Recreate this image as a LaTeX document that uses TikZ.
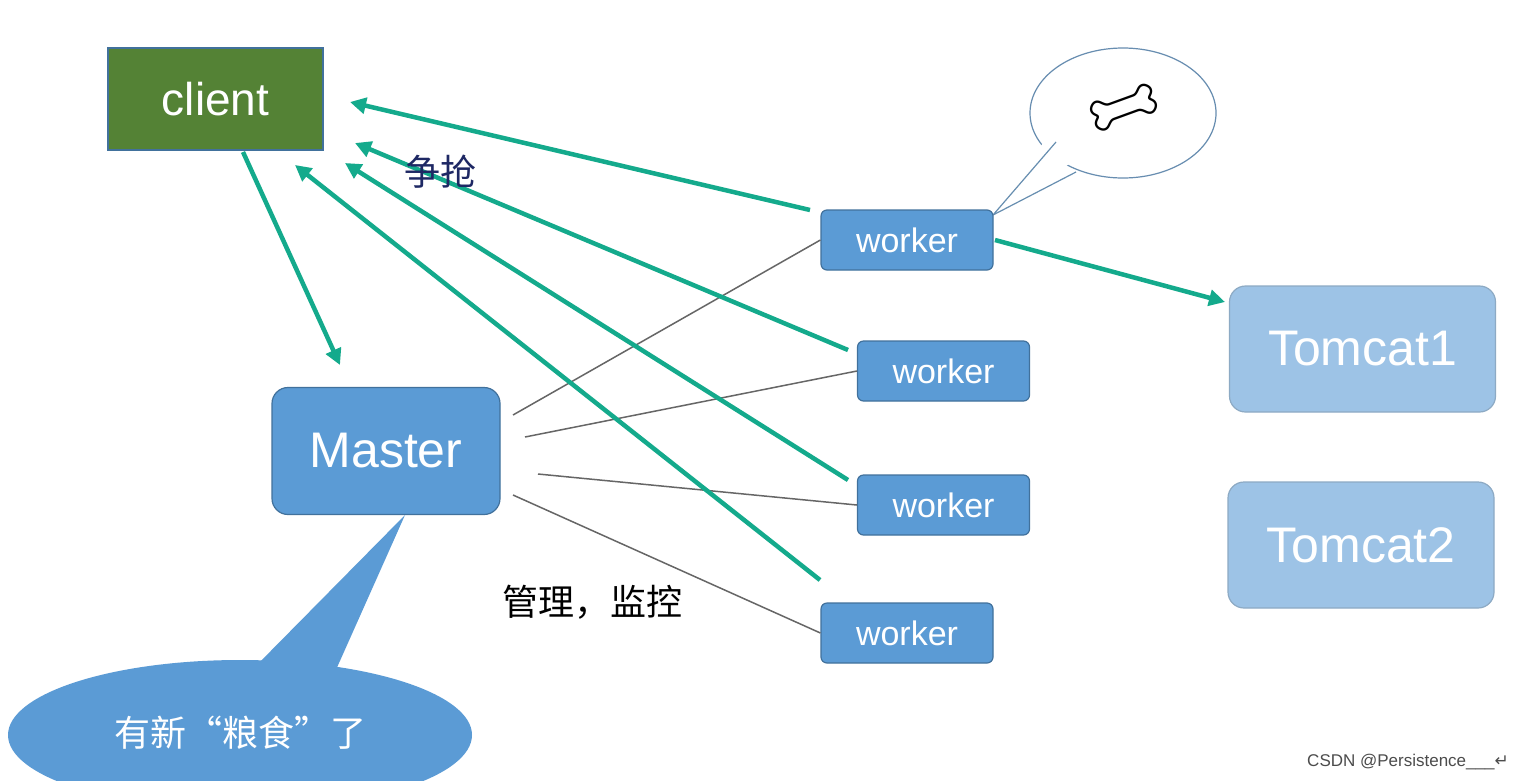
\documentclass[tikz,border=0pt]{standalone}
\usepackage{fontspec}
\setmainfont{Liberation Sans}
\newfontfamily\cjk{Noto Sans CJK SC}
\newfontfamily\emo{Noto Emoji}
\newfontfamily\dejavu{DejaVu Sans}
\usetikzlibrary{arrows.meta}
\definecolor{cgreen}{RGB}{84,130,53}
\definecolor{mblue}{RGB}{91,155,213}
\definecolor{mborder}{RGB}{65,113,156}
\definecolor{tblue}{RGB}{157,195,230}
\definecolor{arr}{RGB}{20,170,140}
\definecolor{navy}{RGB}{30,40,100}
\tikzset{
 wbox/.style={draw=mborder,line width=1.2pt,fill=mblue,rounded corners=6pt,text=white,font=\fontsize{34}{34}\selectfont,minimum width=172pt,minimum height=60pt,inner sep=0pt},
 tbox/.style={draw=mborder!60,line width=1.2pt,fill=tblue,rounded corners=16pt,text=white,font=\fontsize{50}{50}\selectfont,minimum width=266pt,minimum height=126pt,inner sep=0pt},
 garrow/.style={draw=arr,line width=4.5pt,-{Triangle[length=16pt,width=16pt]}},
 gline/.style={draw=black!60,line width=1.5pt}
}
\begin{document}
\begin{tikzpicture}[x=1pt,y=-1pt]
\useasboundingbox (0,0) rectangle (1530,780);
\fill[white] (0,0) rectangle (1530,780);
% callouts
\fill[mblue] (405,515) -- (250,672) -- (335,672) -- cycle;
\fill[mblue] (240,735) ellipse [x radius=232, y radius=75];
\node[text=white,font=\cjk\fontsize{36}{36}\selectfont] (feed) at (240,733) {有新“粮食”了};
\draw[draw=mborder!80,line width=1.2pt,fill=white] (1123,113) ellipse [x radius=93, y radius=65];
\fill[white] (1052,130) -- (993,215) -- (1090,150) -- cycle;
\draw[mborder!80,line width=1.2pt] (1056,142) -- (993,215) -- (1076,172);
\node[rotate=-115,font=\emo\fontsize{60}{60}\selectfont] (bone) at (1124,108) {🦴};
% nodes
\node[draw=mborder,line width=1.2pt,fill=cgreen,text=white,font=\fontsize{46}{46}\selectfont,minimum width=215pt,minimum height=102pt,inner sep=0pt] (client) at (215.5,99) {client};
\node[draw=mborder,line width=1.2pt,fill=mblue,rounded corners=16pt,text=white,font=\fontsize{50}{50}\selectfont,minimum width=228pt,minimum height=127pt,inner sep=0pt] (master) at (386,451) {Master};
\node[wbox] (w1) at (907,240) {worker};
\node[wbox] (w2) at (943.5,371) {worker};
\node[wbox] (w3) at (943.5,505) {worker};
\node[wbox] (w4) at (907,633) {worker};
\node[tbox] (t1) at (1362.5,349) {Tomcat1};
\node[tbox] (t2) at (1361,545) {Tomcat2};
% gray lines
\coordinate (m1) at (513,415); \coordinate (m2) at (525,437);
\coordinate (m3) at (538,474); \coordinate (m4) at (513,495);
\draw[gline] (m1) -- (w1.west);
\draw[gline] (m2) -- (w2.west);
\draw[gline] (m3) -- (w3.west);
\draw[gline] (m4) -- (w4.west);
% green arrows
\coordinate (a1) at (810,210); \coordinate (b1) at (350,102);
\coordinate (a2) at (848,350); \coordinate (b2) at (355,143);
\coordinate (a3) at (848,480); \coordinate (b3) at (345,163);
\coordinate (a4) at (820,580); \coordinate (b4) at (295,165);
\coordinate (c0) at (243,152); \coordinate (c1) at (340,365);
\coordinate (d0) at (995,240); \coordinate (d1) at (1225,302);
\draw[garrow] (a1) -- (b1);
\draw[garrow] (a2) -- (b2);
\draw[garrow] (a3) -- (b3);
\draw[garrow] (a4) -- (b4);
\draw[garrow] (c0) -- (c1);
\draw[garrow] (d0) -- (d1);
% labels
\node[text=navy,font=\cjk\fontsize{36}{36}\selectfont] (qiang) at (440,172) {争抢};
\node[font=\cjk\fontsize{36}{36}\selectfont] (guan) at (592,602) {管理，监控};
\node[text=black!70,font=\fontsize{17}{17}\selectfont] (wm) at (1408,762) {CSDN @Persistence\_\_\_{\dejavu ↵}};
\end{tikzpicture}
\end{document}
